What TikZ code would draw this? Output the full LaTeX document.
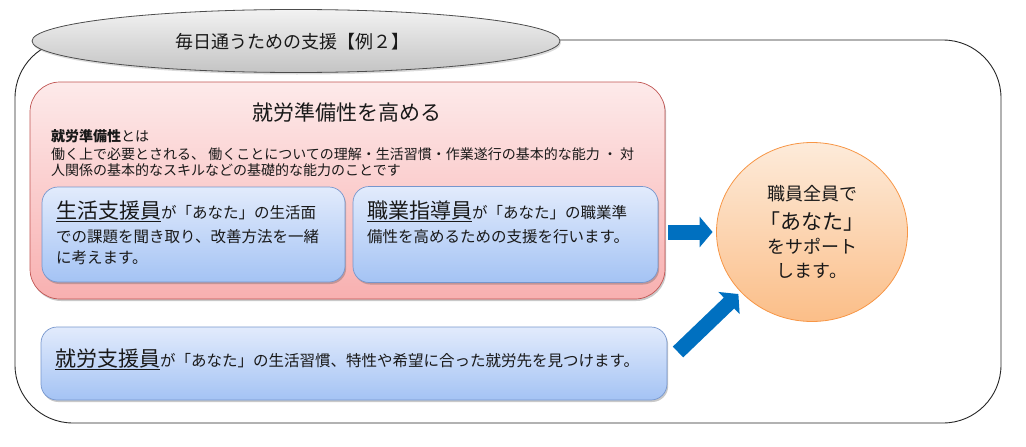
\documentclass[tikz,border=0pt]{standalone}
\usepackage{fontspec}
\setmainfont{Noto Sans CJK JP}
\usetikzlibrary{shapes.geometric,arrows.meta,shadows}
\definecolor{pinkTop}{RGB}{253,234,234}
\definecolor{pinkBot}{RGB}{248,176,176}
\definecolor{pinkLine}{RGB}{192,84,82}
\definecolor{blueTop}{RGB}{226,235,252}
\definecolor{blueBot}{RGB}{164,195,244}
\definecolor{blueLine}{RGB}{118,150,205}
\definecolor{circTop}{RGB}{253,235,218}
\definecolor{circBot}{RGB}{251,190,136}
\definecolor{circLine}{RGB}{247,150,70}
\definecolor{ellTop}{RGB}{242,242,242}
\definecolor{ellBot}{RGB}{196,196,196}
\definecolor{arrowBlue}{RGB}{0,112,192}
\newcommand\myul[1]{\setbox0\hbox{#1}\rlap{\rule[-3.8pt]{\wd0}{1.1pt}}\box0}
\begin{document}
\begin{tikzpicture}[x=1pt,y=-1pt,
  frame/.style={draw=black!85, line width=0.9pt, rounded corners=58pt, inner sep=0pt},
  pinkbox/.style={draw=pinkLine, line width=0.7pt, rounded corners=30pt, top color=pinkTop, bottom color=pinkBot, inner sep=0pt,
    drop shadow={shadow xshift=1.2pt, shadow yshift=-2pt, opacity=0.3, fill=black!70}},
  bluebox/.style={draw=blueLine, line width=0.7pt, rounded corners=16pt, top color=blueTop, bottom color=blueBot, inner sep=0pt,
    drop shadow={shadow xshift=1.2pt, shadow yshift=-2pt, opacity=0.3, fill=black!70}},
  circbox/.style={ellipse, draw=circLine, line width=0.8pt, top color=circTop, bottom color=circBot, inner sep=0pt},
  titleell/.style={ellipse, draw=black!70, line width=0.8pt, top color=ellTop, bottom color=ellBot, inner sep=0pt,
    drop shadow={shadow xshift=1pt, shadow yshift=-2pt, opacity=0.2, fill=black!70}},
  txt/.style={inner sep=0pt, anchor=base west, text=black!90},
  ctxt/.style={inner sep=0pt, anchor=base, text=black!90},
  small/.style={font=\fontsize{14}{16}\selectfont},
  mid/.style={font=\fontsize{15.5}{18}\selectfont},
  bigarrow/.style={draw=arrowBlue, line width=15pt, -{Triangle[width=30pt,length=13pt]}}
]
\useasboundingbox (0,0) rectangle (1026,447);
% outer frame
\node[frame, minimum width=986pt, minimum height=383pt] (outer) at (508,231.5) {};
% title ellipse
\node[titleell, minimum width=528pt, minimum height=63pt] (ell) at (296,41) {};
\node[ctxt, font=\fontsize{18}{18}\selectfont] (ttl) at (292,48.8) {毎日通うための支援【例２】};
% pink box
\node[pinkbox, minimum width=635pt, minimum height=217pt] (pink) at (347.5,190.5) {};
\node[ctxt, font=\fontsize{21}{21}\selectfont] (ptitle) at (347,120.5) {就労準備性を高める};
\node[txt, small] (p1) at (51,141.8) {\textbf{就労準備性}とは};
\node[txt, small] (p2) at (51,159.8) {働く上で必要とされる、 働くことについての理解・生活習慣・作業遂行の基本的な能力 ・ 対};
\node[txt, small] (p3) at (51,175.3) {人関係の基本的なスキルなどの基礎的な能力のことです};
% blue boxes
\node[bluebox, minimum width=303pt, minimum height=95pt] (b1) at (193.5,234.5) {};
\node[bluebox, minimum width=305pt, minimum height=96pt] (b2) at (505.5,234.5) {};
\node[bluebox, minimum width=626pt, minimum height=73pt] (b3) at (354,363.5) {};
\node[txt, mid] (b1a) at (56,218.6) {\myul{\fontsize{21}{21}\selectfont 生活支援員}が「あなた」の生活面};
\node[txt, mid] (b1b) at (56,242.9) {での課題を聞き取り、改善方法を一緒};
\node[txt, mid] (b1c) at (56,263.4) {に考えます。};
\node[txt, mid] (b2a) at (367,218.6) {\myul{\fontsize{21}{21}\selectfont 職業指導員}が「あなた」の職業準};
\node[txt, mid] (b2b) at (367,242.9) {備性を高めるための支援を行います。};
\node[txt, mid] (b3a) at (55,366.4) {\myul{\fontsize{21}{21}\selectfont 就労支援員}が「あなた」の生活習慣、特性や希望に合った就労先を見つけます。};
% circle
\node[circbox, minimum width=191pt, minimum height=179pt] (circ) at (812,232) {};
\node[ctxt, font=\fontsize{18}{18}\selectfont] (c1) at (812,200.8) {職員全員で};
\node[ctxt, font=\fontsize{21}{21}\selectfont] (c2) at (812,229) {「あなた」};
\node[ctxt, font=\fontsize{18}{18}\selectfont] (c3) at (812,253.3) {をサポート};
\node[ctxt, font=\fontsize{18}{18}\selectfont] (c4) at (812,277.3) {します。};
% arrows
\draw[bigarrow] ([xshift=3pt]pink.east |- circ.west) -- ([xshift=-3.5pt]circ.west);
\coordinate (a2tail) at (678,352);
\draw[bigarrow, shorten >=3pt] (a2tail) -- (circ.220);
\end{tikzpicture}
\end{document}
